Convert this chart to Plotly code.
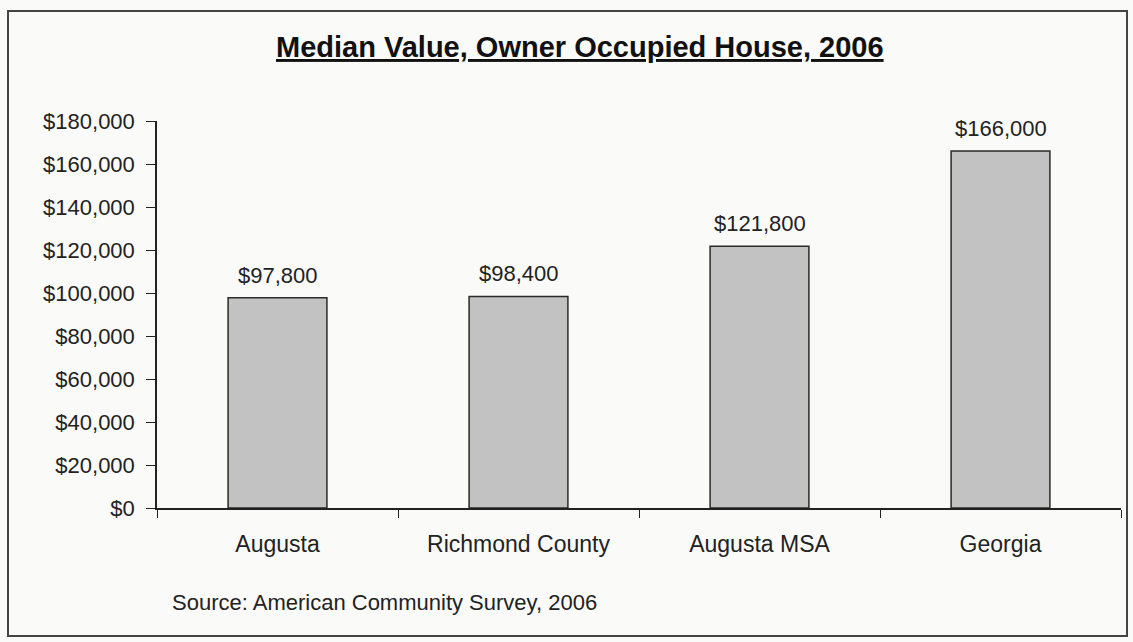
import plotly.graph_objects as go

categories = ["Augusta", "Richmond County", "Augusta MSA", "Georgia"]
values = [97800, 98400, 121800, 166000]
title_text = "Median Value, Owner Occupied House, 2006"
source_text = "Source: American Community Survey, 2006"

W, H = 1133, 642
L, R, T, B = 157, 12, 121, 134
pw, ph = W - L - R, H - T - B

def px_x(x):
    return (x - L) / pw

def px_y(y):
    return (H - B - y) / ph

FONT = "Liberation Sans, Arial, sans-serif"
INK = "#222"

fig = go.Figure(go.Bar(
    x=categories, y=values,
    marker=dict(color="#c2c2c2", line=dict(color="#2a2a2a", width=1.5)),
    cliponaxis=False,
))
for c, v in zip(categories, values):
    fig.add_annotation(
        x=c, y=v, text="${:,.0f}".format(v), showarrow=False,
        yanchor="bottom", yshift=8,
        font=dict(family=FONT, size=22, color=INK),
    )

fig.update_layout(
    width=W, height=H,
    margin=dict(l=L, r=R, t=T, b=B),
    paper_bgcolor="#fafaf8", plot_bgcolor="#fafaf8",
    bargap=0.59,
    showlegend=False,
    font=dict(family=FONT, size=22, color=INK),
)
fig.update_xaxes(
    showline=True, linecolor=INK, linewidth=1.5,
    ticks="outside", tickson="boundaries", ticklen=8, tickcolor=INK,
    tickfont=dict(family=FONT, size=23, color=INK),
    ticklabelstandoff=15, showgrid=False,
)
fig.update_yaxes(
    range=[0, 180000], dtick=20000, tickformat="$,.0f",
    showline=True, linecolor=INK, linewidth=1.5,
    ticks="outside", ticklen=9, tickcolor=INK,
    tickfont=dict(family=FONT, size=22, color=INK),
    ticklabelstandoff=7, showgrid=False, zeroline=False,
)
fig.add_annotation(
    text="<b><u>" + title_text + "</u></b>", xref="paper", yref="paper",
    x=px_x(580), y=px_y(47), showarrow=False, xanchor="center", yanchor="middle",
    font=dict(family=FONT, size=29, color="#111"),
)
fig.add_annotation(
    text=source_text, xref="paper", yref="paper",
    x=px_x(170), y=px_y(602), showarrow=False, xanchor="left", yanchor="middle",
    font=dict(family=FONT, size=22, color=INK),
)
fig.add_shape(
    type="rect", xref="paper", yref="paper",
    x0=px_x(8), x1=px_x(1127), y0=px_y(636), y1=px_y(11),
    line=dict(color="#444", width=2), layer="below",
)
fig.write_html("out.html", config={"displayModeBar": False},
               post_script="document.body.style.margin='0';")
